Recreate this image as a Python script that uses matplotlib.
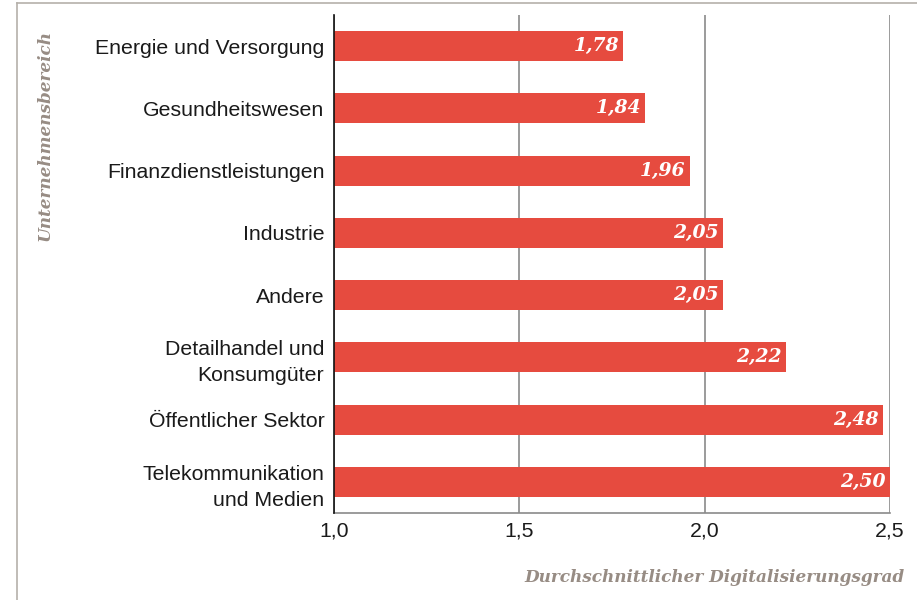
import numpy as np
import matplotlib.pyplot as plt
from matplotlib.lines import Line2D

# data
categories = ["Energie und Versorgung", "Gesundheitswesen", "Finanzdienstleistungen",
              "Industrie", "Andere", "Detailhandel und\nKonsumgüter",
              "Öffentlicher Sektor", "Telekommunikation\nund Medien"]
values = [1.78, 1.84, 1.96, 2.05, 2.05, 2.22, 2.48, 2.50]
xticks = [1.0, 1.5, 2.0, 2.5]
xtick_labels = ["1,0", "1,5", "2,0", "2,5"]

bar_color = "#e64b3f"
label_grey = "#978c84"

fig = plt.figure(figsize=(9.17, 6.0), dpi=100)
ax = fig.add_axes([334/917, 87/600, 556/917, 498/600])

y = np.arange(len(categories))
ax.barh(y, np.array(values) - 1.0, left=1.0, height=0.48, color=bar_color, zorder=3)

for yi, v in zip(y, values):
    ax.annotate(f"{v:.2f}".replace(".", ","), xy=(v, yi), xytext=(-3, 0),
                textcoords="offset points", ha="right", va="center",
                color="white", fontsize=13.5, fontfamily="DejaVu Serif",
                fontstyle="italic", fontweight="bold", zorder=4)

ax.set_xlim(1.0, 2.5)
ax.set_ylim(len(categories) - 0.5, -0.5)
ax.set_yticks(y)
ax.set_yticklabels(categories, fontsize=15.3, fontfamily="Liberation Sans",
                   color="#1a1a1a", linespacing=1.45)
ax.set_xticks(xticks)
ax.set_xticklabels(xtick_labels, fontsize=15.3, fontfamily="Liberation Sans",
                   color="#1a1a1a")
ax.tick_params(axis="both", length=0)
ax.tick_params(axis="x", pad=6)
ax.tick_params(axis="y", pad=7)

ax.grid(axis="x", color="#8a8a8a", linewidth=1.2, zorder=1)
ax.spines["top"].set_visible(False)
ax.spines["right"].set_visible(False)
ax.spines["left"].set_color("#111111")
ax.spines["left"].set_linewidth(1.2)
ax.spines["left"].set_zorder(5)
ax.spines["bottom"].set_color("#8a8a8a")
ax.spines["bottom"].set_linewidth(1.2)

fig.text(45/917, 1 - 30/600, "Unternehmensbereich", rotation=90, ha="center", va="top",
         fontsize=12.2, fontfamily="DejaVu Serif", fontstyle="italic", fontweight="bold",
         color=label_grey)
fig.text(905/917, 1 - 578/600, "Durchschnittlicher Digitalisierungsgrad", ha="right",
         va="center", fontsize=12.2, fontfamily="DejaVu Serif", fontstyle="italic",
         fontweight="bold", color=label_grey)

# thin frame of the screenshot
fig.add_artist(Line2D([17/917, 1], [1 - 3/600, 1 - 3/600], transform=fig.transFigure,
                      color="#b5b0aa", linewidth=1.2))
fig.add_artist(Line2D([17/917, 17/917], [0, 1 - 3/600], transform=fig.transFigure,
                      color="#b5b0aa", linewidth=1.2))

fig.savefig("out.png", dpi=100)
